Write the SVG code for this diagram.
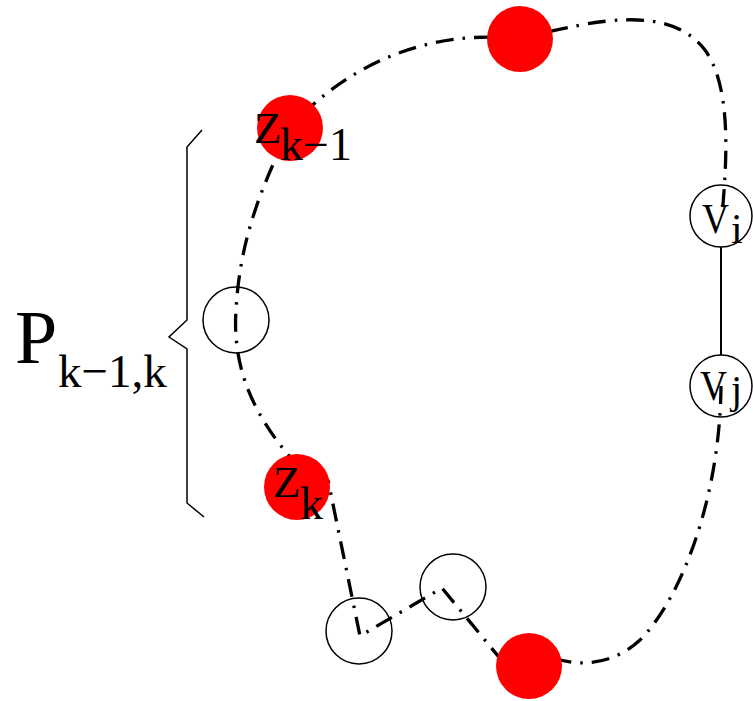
<svg xmlns="http://www.w3.org/2000/svg" width="753" height="701" viewBox="0 0 753 701">
<style>
.dd{fill:none;stroke:#000;stroke-width:3.3;stroke-dasharray:18 9 2.5 9}
.red{fill:#ff0000}
.open{fill:none;stroke:#000;stroke-width:1.5}
.t{font-family:"Liberation Serif","Times New Roman",serif;fill:#000}
</style>
<rect width="753" height="701" fill="#fff"/>
<g id="connectors">
<path class="dd" d="M300,468 C255,420 232,370 236,310 C240,240 260,190 290,128 C345,65 430,28 520,39 C600,18 670,5 705,50 C730,85 728,150 722,216"/>
<path class="dd" d="M721,386 C720,500 680,600 640,640 C610,668 570,668 540,652"/>
<path class="dd" d="M503,662 L442,588 L360,636 L328,480"/>
<line x1="721" y1="247" x2="721" y2="355" stroke="#000" stroke-width="2"/>
</g>
<g id="node-top"><circle class="red" cx="520" cy="39" r="33"/></g>
<g id="node-zk1"><circle class="red" cx="290" cy="128" r="33"/>
<text class="t" x="254" y="143" font-size="45">Z</text><text class="t" x="280" y="160" font-size="46">k−1</text></g>
<g id="node-left"><circle class="open" cx="236" cy="320" r="33"/></g>
<g id="node-zk"><circle class="red" cx="297" cy="487" r="33"/>
<text class="t" x="273" y="497" font-size="45">Z</text><text class="t" x="300" y="519" font-size="46">k</text></g>
<g id="node-b1"><circle class="open" cx="359" cy="631" r="33"/></g>
<g id="node-b2"><circle class="open" cx="453" cy="587" r="33"/></g>
<g id="node-bottom"><circle class="red" cx="529" cy="666" r="33"/></g>
<g id="node-vi"><circle class="open" cx="721" cy="216" r="31"/>
<text class="t" x="702" y="233" font-size="43" textLength="27" lengthAdjust="spacingAndGlyphs">V</text><text class="t" x="731" y="243" font-size="42">i</text></g>
<g id="node-vj"><circle class="open" cx="721" cy="386" r="31"/>
<text class="t" x="700" y="400" font-size="43" textLength="27" lengthAdjust="spacingAndGlyphs">V</text><text class="t" x="731" y="403" font-size="40">j</text></g>
<g id="brace">
<polyline points="202,130 187,147 187,320 169,337 187,349 187,503 204,517" fill="none" stroke="#000" stroke-width="1.5"/>
<text class="t" x="15" y="363" font-size="76">P</text><text class="t" x="58" y="387" font-size="47">k−1,k</text>
</g>
</svg>
